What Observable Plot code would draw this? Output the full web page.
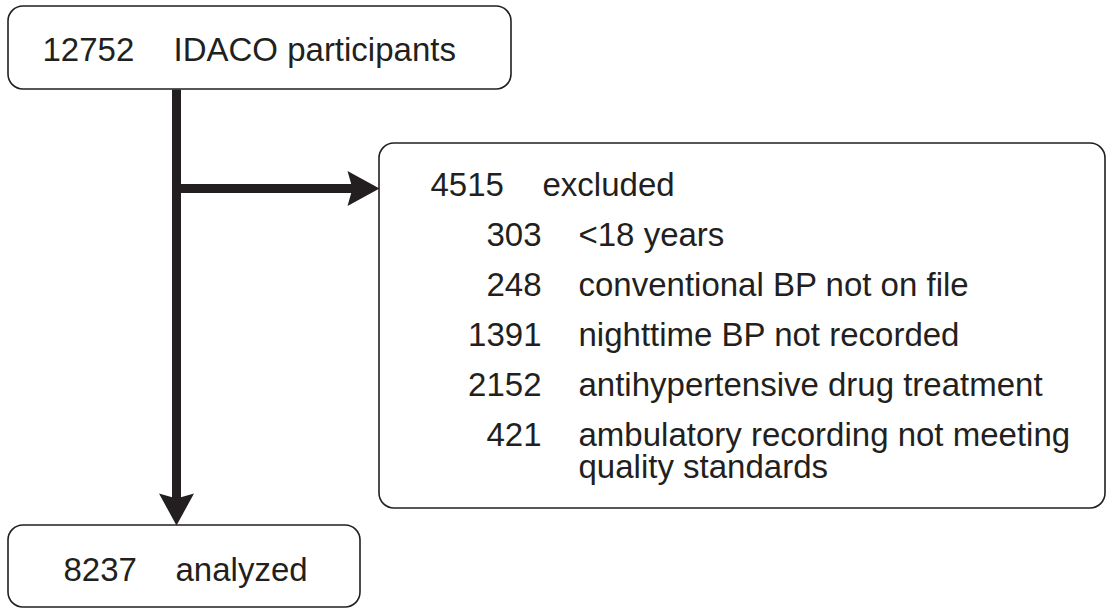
<!DOCTYPE html>
<html>
<head>
<meta charset="utf-8">
<script src="https://cdn.jsdelivr.net/npm/d3@7"></script>
<script src="https://cdn.jsdelivr.net/npm/@observablehq/plot@0.6"></script>
<style>
  html, body { margin: 0; padding: 0; background: #fff; }
  #chart svg { display: block; }
</style>
</head>
<body>
<div id="chart"></div>
<script>
// ---- data ----
const stageCounts = [12752, 4515, 8237];
const stageLabels = ["IDACO participants", "excluded", "analyzed"];
const reasonCounts = [303, 248, 1391, 2152, 421];
const reasonLabels = [
  "<18 years",
  "conventional BP not on file",
  "nighttime BP not recorded",
  "antihypertensive drug treatment",
  "ambulatory recording not meeting\nquality standards"
];

// ---- layout (pixels) ----
const W = 1106, H = 608;
const ink = "#231f20";
const fs = 33;
const boxes = [
  {x1: 8, x2: 511, y1: 6, y2: 89},       // participants
  {x1: 379, x2: 1105, y1: 143, y2: 508}, // excluded
  {x1: 8, x2: 360, y1: 525, y2: 607}     // analyzed
];
const stemX = 176, branchY = 188, shaft = 9, headLen = 32, headHalf = 17.5, notch = 5;

// header text rows for each box
const headerPos = [
  {numX: 42, labX: 173, base: 60},
  {numX: 430, labX: 542, base: 195},
  {numX: 63, labX: 175, base: 580}
];
const headers = stageCounts.map((c, i) => ({count: String(c), label: stageLabels[i], ...headerPos[i]}));

const reasonNumRight = 541, reasonLabX = 578, reasonBase0 = 245, reasonStep = 50;
const reasons = reasonCounts.map((c, i) => ({
  count: String(c), label: reasonLabels[i], base: reasonBase0 + i * reasonStep
}));

// arrows: shaft segments + filled heads
const tipDown = {x: stemX, y: boxes[2].y1};
const tipRight = {x: boxes[1].x1, y: branchY};
const shafts = [
  {x1: stemX, y1: boxes[0].y2, x2: stemX, y2: tipDown.y - headLen + notch + 1},
  {x1: stemX, y1: branchY, x2: tipRight.x - headLen + notch + 1, y2: branchY}
];
const heads = [];
[[tipDown.x - headHalf, tipDown.y - headLen], [tipDown.x, tipDown.y],
 [tipDown.x + headHalf, tipDown.y - headLen], [tipDown.x, tipDown.y - headLen + notch]]
  .forEach(([x, y]) => heads.push({x, y, z: "down"}));
[[tipRight.x - headLen, tipRight.y - headHalf], [tipRight.x, tipRight.y],
 [tipRight.x - headLen, tipRight.y + headHalf], [tipRight.x - headLen + notch, tipRight.y]]
  .forEach(([x, y]) => heads.push({x, y, z: "right"}));

const font = "'Liberation Sans', Arial, Helvetica, sans-serif";
const topOf = b => b - 0.71 * fs; // lineAnchor top puts baseline at y + 0.71em

const plot = Plot.plot({
  width: W,
  height: H,
  margin: 0,
  x: {domain: [0, W], range: [0, W], axis: null},
  y: {domain: [0, H], range: [0, H], axis: null},
  style: {fontFamily: font, background: "white", color: ink},
  marks: [
    Plot.link(shafts, {x1: "x1", y1: "y1", x2: "x2", y2: "y2", stroke: ink, strokeWidth: shaft}),
    Plot.line(heads, {x: "x", y: "y", z: "z", fill: ink, stroke: "none", curve: "linear-closed"}),
    Plot.rect(boxes, {x1: "x1", x2: "x2", y1: "y1", y2: "y2", rx: 15, fill: "none", stroke: ink, strokeWidth: 1.6}),
    Plot.text(headers, {x: "numX", y: d => topOf(d.base), text: "count", textAnchor: "start", lineAnchor: "top", fontSize: fs, fill: ink}),
    Plot.text(headers, {x: "labX", y: d => topOf(d.base), text: "label", textAnchor: "start", lineAnchor: "top", fontSize: fs, fill: ink}),
    Plot.text(reasons, {x: () => reasonNumRight, y: d => topOf(d.base), text: "count", textAnchor: "end", lineAnchor: "top", fontSize: fs, fill: ink}),
    Plot.text(reasons, {x: () => reasonLabX, y: d => topOf(d.base), text: "label", textAnchor: "start", lineAnchor: "top", lineHeight: 1.0, fontSize: fs, fill: ink})
  ]
});
document.getElementById("chart").appendChild(plot);
</script>
</body>
</html>
